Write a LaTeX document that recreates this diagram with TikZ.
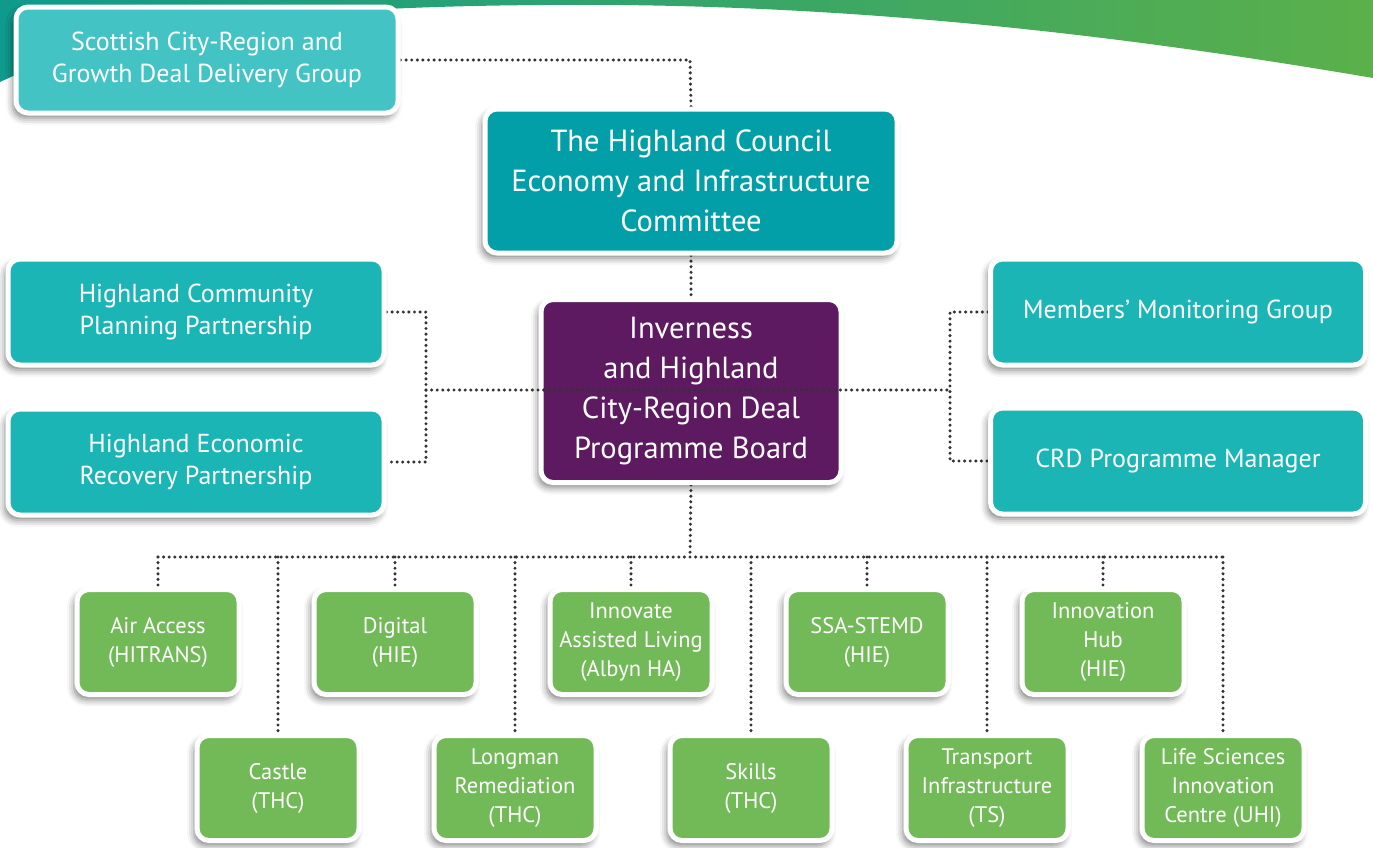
\documentclass[tikz,border=0pt]{standalone}
\usepackage{fontspec}
\setmainfont{PT Sans}
\usetikzlibrary{shadows.blur}
\definecolor{bandleft}{HTML}{0E9A8C}
\definecolor{bandright}{HTML}{5BB04A}
\definecolor{scotteal}{HTML}{44C3C4}
\definecolor{councilteal}{HTML}{039FA9}
\definecolor{sideteal}{HTML}{1CB5B6}
\definecolor{boardpurple}{HTML}{5D1A61}
\definecolor{projgreen}{HTML}{72BA58}
\pgfdeclarelayer{bg}
\pgfsetlayers{bg,main}
\begin{document}
\begin{tikzpicture}[x=1pt,y=-1pt,
  box/.style={draw=white,line width=5pt,rounded corners=12pt,text=white,align=center,
    blur shadow={shadow xshift=-3pt,shadow yshift=-5pt,shadow blur radius=7pt,shadow opacity=50}},
  big/.style={box,font=\fontsize{30.5}{40}\selectfont},
  mid/.style={box,font=\fontsize{26}{32}\selectfont},
  proj/.style={box,fill=projgreen,minimum width=162pt,minimum height=105pt,font=\fontsize{22.5}{29}\selectfont},
  link/.style={draw=black!80,line width=3.4pt,line cap=round,dash pattern=on 0pt off 5.6pt}]
\useasboundingbox (0,0) rectangle (1373,847);
\shade[left color=bandleft,right color=bandright] (0,0) -- (0,82) .. controls (120,25) and (300,3) .. (620,5)
  .. controls (900,8) and (1150,40) .. (1373,78) -- (1373,0) -- cycle;

\node[mid,fill=scotteal,minimum width=382pt,minimum height=106pt] (scot) at (207,60) {Scottish City-Region and\\Growth Deal Delivery Group};
\node[big,fill=councilteal,minimum width=412pt,minimum height=144pt] (council) at (691,181) {The Highland Council\\Economy and Infrastructure\\Committee};
\node[big,fill=boardpurple,minimum width=300pt,minimum height=183pt] (board) at (691,391) {Inverness\\and Highland\\City-Region Deal\\Programme Board};
\node[mid,fill=sideteal,minimum width=376pt,minimum height=106pt] (hcpp) at (196,312) {Highland Community\\Planning Partnership};
\node[mid,fill=sideteal,minimum width=376pt,minimum height=106pt] (herp) at (196,462) {Highland Economic\\Recovery Partnership};
\node[mid,fill=sideteal,minimum width=375pt,minimum height=106pt] (mmg) at (1178,312) {Members’ Monitoring Group};
\node[mid,fill=sideteal,minimum width=375pt,minimum height=106pt] (crd) at (1178,461) {CRD Programme Manager};

\node[proj] (air) at (158,642) {Air Access\\(HITRANS)};
\node[proj] (digital) at (395,642) {Digital\\(HIE)};
\node[proj] (living) at (631,642) {Innovate\\Assisted Living\\(Albyn HA)};
\node[proj] (ssa) at (867,642) {SSA-STEMD\\(HIE)};
\node[proj] (hub) at (1103,642) {Innovation\\Hub\\(HIE)};
\node[proj] (castle) at (278,788) {Castle\\(THC)};
\node[proj] (longman) at (515,788) {Longman\\Remediation\\(THC)};
\node[proj] (skills) at (751,788) {Skills\\(THC)};
\node[proj] (transport) at (987,788) {Transport\\Infrastructure\\(TS)};
\node[proj] (life) at (1223,788) {Life Sciences\\Innovation\\Centre (UHI)};

\coordinate (top) at (690,60);
\coordinate (lbr) at (426,390);
\coordinate (rbr) at (950,390);
\coordinate (bus) at (690,557);

\begin{pgfonlayer}{bg}
\draw[link] (scot.east) -- (top) -- (council.north);
\draw[link] (council.south) -- (board.north);
\draw[link] (hcpp.east) -| (lbr) |- (herp.east);
\draw[link] (mmg.west) -| (rbr) |- (crd.west);
\draw[link] (board.south) -- (bus);
\draw[link] (air.north |- bus) -- (life.north |- bus);
\foreach \p in {air,digital,living,ssa,hub,castle,longman,skills,transport,life}
  \draw[link] (\p.north |- bus) -- (\p.north);
\end{pgfonlayer}
\draw[link] (lbr) -- (rbr);
\end{tikzpicture}
\end{document}
